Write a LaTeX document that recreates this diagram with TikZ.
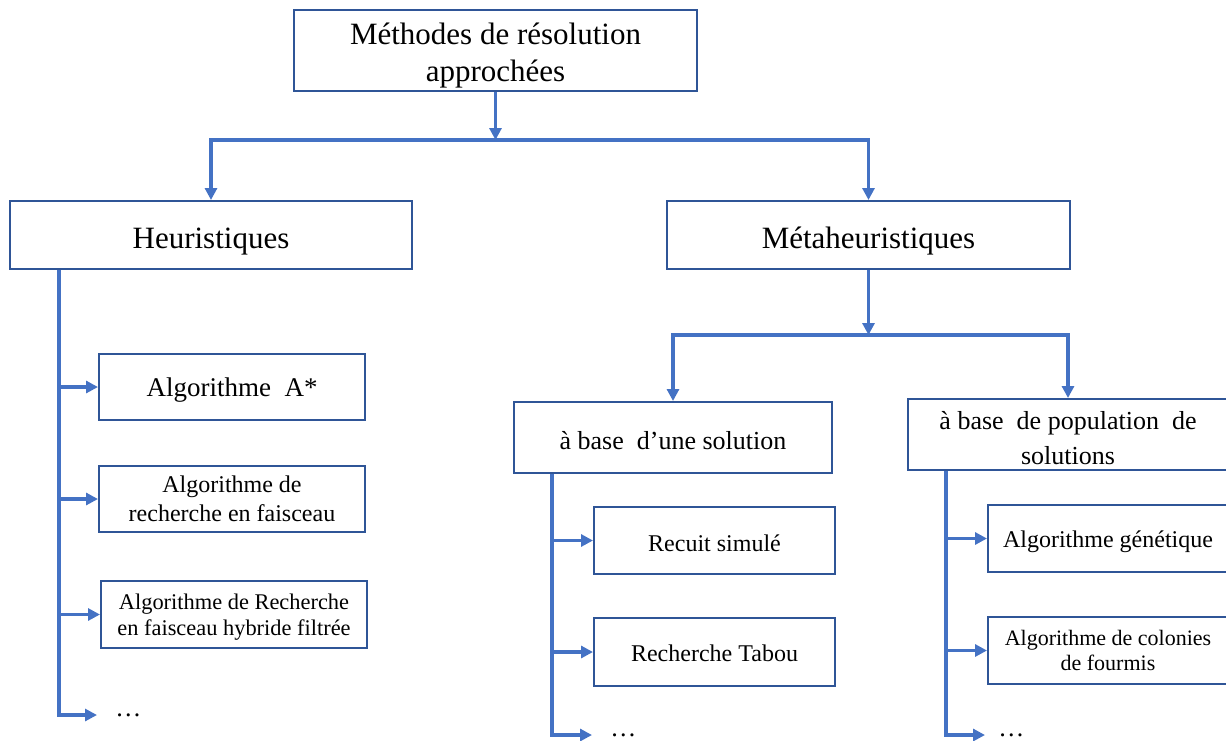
\documentclass[tikz,border=0pt]{standalone}
\usepackage{fontspec}
\setmainfont{Liberation Serif}
\usetikzlibrary{arrows.meta}
\definecolor{lineblue}{HTML}{4472C4}
\definecolor{boxblue}{HTML}{2F5597}
\newcommand{\boxstrut}[1]{\rule{0pt}{#1}}

\begin{document}
\begin{tikzpicture}[x=0.5pt,y=-0.5pt,
box/.style={rectangle, draw=boxblue, line width=1pt, align=center, inner sep=0pt},
link/.style={draw=lineblue, line width=1.6pt, -{Triangle[length=6pt,width=6pt]}},
dotsnode/.style={anchor=west, inner ysep=3pt, inner xsep=#1, font=\fontsize{13}{15}\selectfont},
]
\clip (0,0) rectangle (1226,740);
%Nodes
\node[box, minimum width=201.5pt, minimum height=40.5pt, font=\fontsize{15.5}{18.5}\selectfont] at (495.5,50.5) (top) {\boxstrut{1.05em}Méthodes de résolution\\approchées};
\node[box, minimum width=201pt, minimum height=34pt, font=\fontsize{15.5}{18.5}\selectfont] at (211,235) (heur) {\boxstrut{1.1em}Heuristiques};
\node[box, minimum width=201.5pt, minimum height=34pt, font=\fontsize{15.5}{18.5}\selectfont] at (868.5,235) (meta) {\boxstrut{1.1em}Métaheuristiques};
\node[box, minimum width=133pt, minimum height=33pt, font=\fontsize{13.5}{16}\selectfont] at (232,387) (astar) {\boxstrut{0.92em}Algorithme~ A*};
\node[box, minimum width=133pt, minimum height=33pt, font=\fontsize{12}{14.5}\selectfont] at (232,499) (faisc) {Algorithme de\\recherche en faisceau};
\node[box, minimum width=133pt, minimum height=33.5pt, font=\fontsize{11.2}{13}\selectfont] at (234,614.5) (hybr) {\boxstrut{0.97em}Algorithme de Recherche\\en faisceau hybride filtrée};
\node[dotsnode=9pt] at (97,715) (dots1) {…};
\node[box, minimum width=159pt, minimum height=35.5pt, font=\fontsize{13}{16}\selectfont] at (673,437.5) (unesol) {\boxstrut{0.9em}à base~ d’une solution};
\node[box, minimum width=160pt, minimum height=35.5pt, font=\fontsize{13}{17.5}\selectfont] at (1068,434.5) (popsol) {\boxstrut{0.95em}à base~ de population~ de\\solutions};
\node[box, minimum width=120.5pt, minimum height=33.5pt, font=\fontsize{12}{14.5}\selectfont] at (714.5,540.5) (recuit) {\boxstrut{0.95em}Recuit simulé};
\node[box, minimum width=120.5pt, minimum height=34pt, font=\fontsize{12}{14.5}\selectfont] at (714.5,652) (tabou) {\boxstrut{0.82em}Recherche Tabou};
\node[dotsnode=9pt] at (592,735) (dots2) {…};
\node[box, minimum width=120pt, minimum height=33.5pt, font=\fontsize{12}{14.5}\selectfont] at (1108,538.5) (genet) {\boxstrut{1em}Algorithme génétique};
\node[box, minimum width=120pt, minimum height=33.5pt, font=\fontsize{11}{12.5}\selectfont] at (1108,650.5) (colon) {Algorithme de colonies\\de fourmis};
\node[dotsnode=6.5pt] at (985,735) (dots3) {…};
%Lines
\coordinate (j1) at (495.5,140);
\coordinate (j2) at (868.5,335);
\coordinate (h0) at ([xshift=25pt]heur.south west);
\coordinate (u0) at ([xshift=19.5pt]unesol.south west);
\coordinate (p0) at ([xshift=19.5pt]popsol.south west);
\path[link] (top.south) -- (j1);
\path[link] (j1) -| (heur.north);
\path[link] (j1) -| (meta.north);
\path[link] (meta.south) -- (j2);
\path[link] (j2) -| (unesol.north);
\path[link] (j2) -| (popsol.north);
\foreach \n in {astar,faisc,hybr,dots1} \path[link] (h0) |- (\n.west);
\foreach \n in {recuit,tabou,dots2} \path[link] (u0) |- (\n.west);
\foreach \n in {genet,colon,dots3} \path[link] (p0) |- (\n.west);
\end{tikzpicture}
\end{document}
